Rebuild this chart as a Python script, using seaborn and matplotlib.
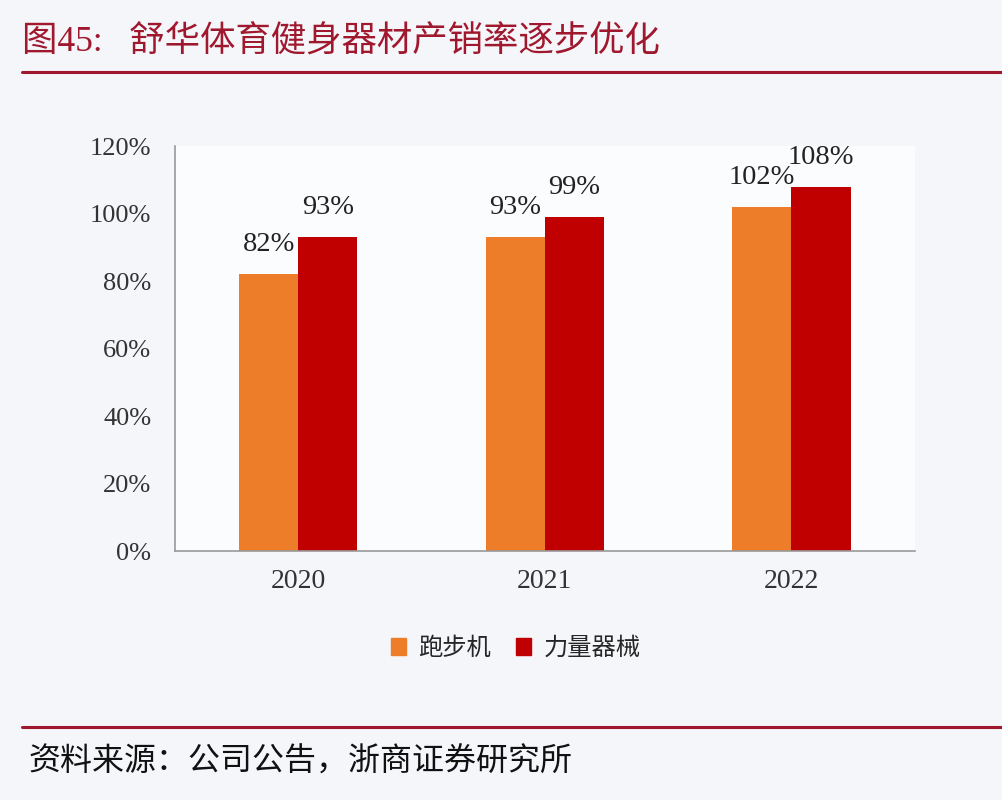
import numpy as np
import pandas as pd
import seaborn as sns
import matplotlib.pyplot as plt

years = ["2020", "2021", "2022"]
series = ["跑步机", "力量器械"]
treadmill = [0.82, 0.93, 1.02]
strength = [0.93, 0.99, 1.08]
yticks = [0, 0.2, 0.4, 0.6, 0.8, 1.0, 1.2]

title = "图45:   舒华体育健身器材产销率逐步优化"
source = "资料来源：公司公告，浙商证券研究所"

colors = ["#ee7d2a", "#c00000"]

df = pd.DataFrame({
    "year": years * 2,
    "series": [series[0]] * 3 + [series[1]] * 3,
    "value": treadmill + strength,
})

sns.set_theme(style="white")
plt.rcParams['font.family'] = ['Liberation Serif', 'Noto Sans CJK SC', 'DejaVu Sans']

fig = plt.figure(figsize=(10.03, 8), dpi=100, facecolor="#f4f6fa")
ax = fig.add_axes([0.1745, 0.311, 0.7375, 0.5065])
ax.set_facecolor("#fbfcfe")

sns.barplot(data=df, x="year", y="value", hue="series", palette=colors,
            width=0.48, saturation=1, linewidth=0, ax=ax, legend=False)

# value labels
for cont in ax.containers:
    for bar in cont:
        h = bar.get_height()
        ax.text(bar.get_x() + bar.get_width() / 2, h + 0.05, f"{h * 100:.0f}%",
                ha="center", va="bottom", fontsize=20.5, color="#222222",
                family="Liberation Serif")

ax.set_xlim(-0.5, 2.5)
ax.set_ylim(0, 1.2)
ax.set_yticks(yticks)
ax.set_yticklabels([f"{int(round(v * 100))}%" for v in yticks])
ax.set_xlabel("")
ax.set_ylabel("")
ax.tick_params(axis="y", direction="in", length=5, width=1, color="#888888",
               labelsize=19, labelcolor="#333333", pad=17)
ax.tick_params(axis="x", length=0, labelsize=20, labelcolor="#333333", pad=13)
for t in ax.get_xticklabels() + ax.get_yticklabels():
    t.set_family("Liberation Serif")

sns.despine(ax=ax)
for s in ["left", "bottom"]:
    ax.spines[s].set_color("#999999")
    ax.spines[s].set_linewidth(1.2)

# legend
handles = [plt.Rectangle((0, 0), 1, 1, color=c) for c in colors]
fig.legend(handles, series, loc="center", bbox_to_anchor=(0.514, 0.19), ncol=2,
           frameon=False, handlelength=0.65, handleheight=0.65, handletextpad=0.5,
           columnspacing=1.0, prop={"family": "Noto Sans CJK SC", "size": 17.5})

# title and rules
fig.text(0.022, 0.948, title, fontsize=25.5, color="#a0182e", va="center",
         family=["Liberation Serif", "Noto Sans CJK SC"])
fig.add_artist(plt.Line2D([0.022, 1.0], [0.91, 0.91], color="#a0182e", lw=2.2))
fig.add_artist(plt.Line2D([0.022, 1.0], [0.091, 0.091], color="#a0182e", lw=2.2))
fig.text(0.028, 0.048, source, fontsize=23, color="#111111", va="center",
         family="Noto Sans CJK SC")

fig.savefig("out.png", dpi=100, facecolor=fig.get_facecolor())
